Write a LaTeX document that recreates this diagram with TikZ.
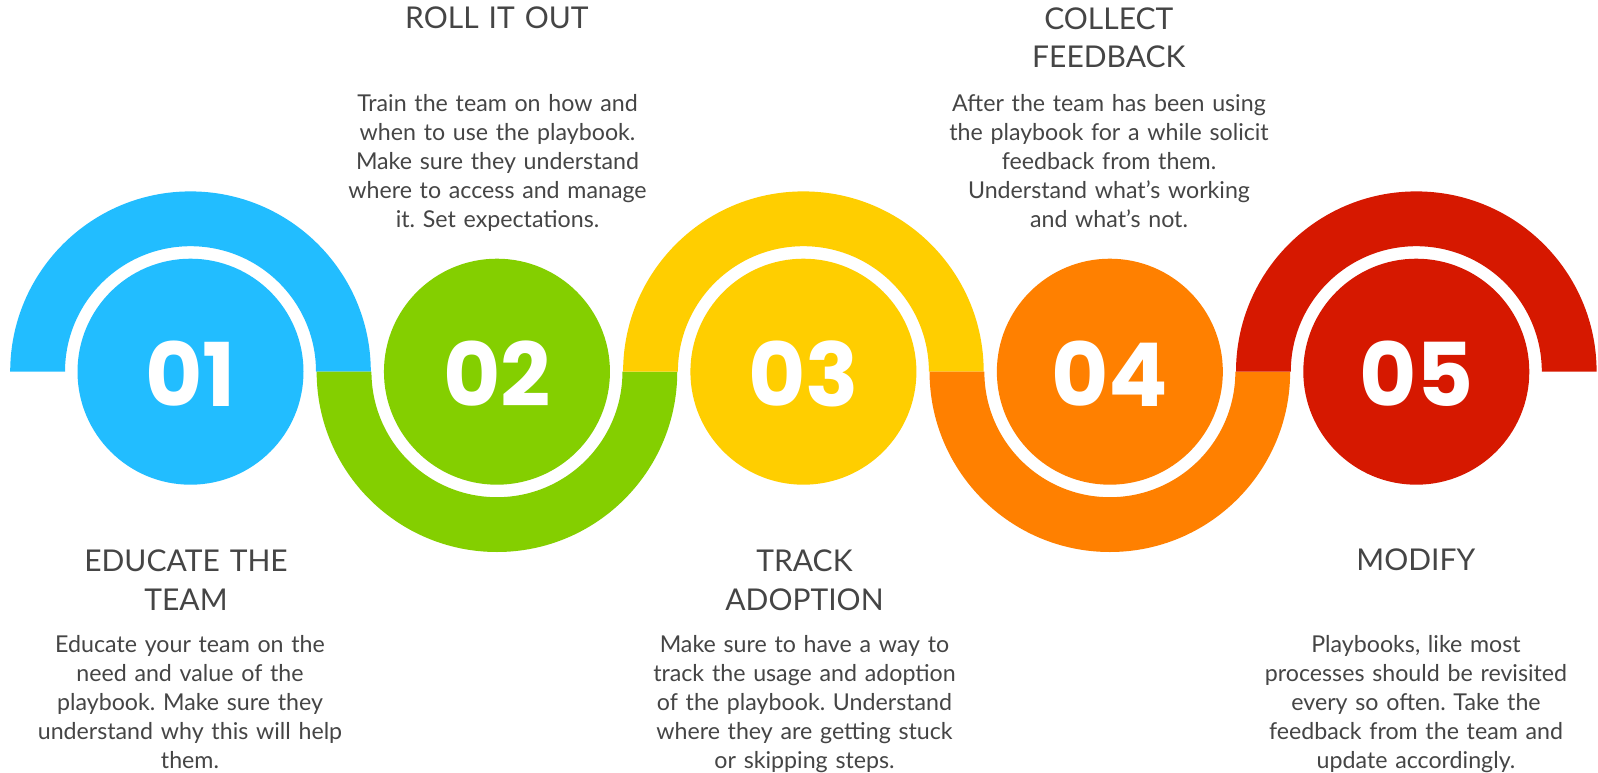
\documentclass[tikz,border=0pt]{standalone}
\usepackage{fontspec}
\setmainfont{Lato}
\newfontfamily\numfont{Poppins}
\frenchspacing

\definecolor{cblue}{HTML}{22BDFF}
\definecolor{cgreen}{HTML}{84CF00}
\definecolor{cyellow}{HTML}{FFCE00}
\definecolor{corange}{HTML}{FF8000}
\definecolor{cred}{HTML}{D61800}
\definecolor{textgray}{HTML}{454545}

\tikzset{
  disc/.style={circle, fill=#1, draw=none, minimum size=226pt, inner sep=0pt},
  num/.style={text=white, anchor=base, inner sep=0pt,
    font=\numfont\bfseries\fontsize{88}{88}\selectfont},
  title/.style={text=textgray, anchor=base, inner sep=0pt, align=center,
    text width=400pt, font=\fontsize{30}{38.5}\selectfont},
  body/.style={text=textgray, anchor=base, inner sep=0pt, align=center,
    text width=420pt, font=\fontsize{23.2}{28.85}\selectfont},
}

\begin{document}
\begin{tikzpicture}[x=1pt, y=1pt]
  \fill[white] (0,0) rectangle (1598,-773);
  \useasboundingbox (0,0) rectangle (1598,-773);

  % half rings, alternately above and below the common baseline
  \def\Ro{180.3}
  \def\Ri{125.5}
  \def\cy{-371.7}
  \foreach \i/\col/\dir in {0/cblue/1, 1/cgreen/-1, 2/cyellow/1, 3/corange/-1, 4/cred/1}{
    \pgfmathsetmacro\cx{190.5+306.45*\i}
    \pgfmathsetmacro\ea{180-180*\dir}
    \fill[\col] (\cx-\Ro,\cy) arc[start angle=180, end angle=\ea, radius=\Ro pt]
      -- (\cx+\Ri,\cy) arc[start angle=\ea, end angle=180, radius=\Ri pt] -- cycle;
  }

  % numbered discs
  \node[disc=cblue]   (s1) at (190.5,-371.7)  {};
  \node[disc=cgreen]  (s2) at (496.95,-371.7) {};
  \node[disc=cyellow] (s3) at (803.4,-371.7)  {};
  \node[disc=corange] (s4) at (1109.85,-371.7) {};
  \node[disc=cred]    (s5) at (1416.3,-371.7) {};

  \node[num] (n1) at ([yshift=-34.5pt]s1.center) {01};
  \node[num] (n2) at ([yshift=-34.5pt]s2.center) {02};
  \node[num] (n3) at ([yshift=-34.5pt]s3.center) {03};
  \node[num] (n4) at ([yshift=-34.5pt]s4.center) {04};
  \node[num] (n5) at ([yshift=-34.5pt]s5.center) {05};

  % step titles
  \node[title] (t1) at (186,-571.7)    {EDUCATE THE\\TEAM};
  \node[title] (t2) at (496.9,-28.5)   {ROLL IT OUT};
  \node[title] (t3) at (804.5,-571.7)  {TRACK\\ADOPTION};
  \node[title] (t4) at (1108.8,-29.3)  {COLLECT\\FEEDBACK};
  \node[title] (t5) at (1415.8,-570.7) {MODIFY};

  % step descriptions
  \node[body] (b1) at (190,-652.7) {Educate your team on the\\need and value of the\\playbook. Make sure they\\understand why this will help\\them.};
  \node[body] (b2) at (497.5,-111.7) {Train the team on how and\\when to use the playbook.\\Make sure they understand\\where to access and manage\\it. Set expectations.};
  \node[body] (b3) at (804.5,-652.7) {Make sure to have a way to\\track the usage and adoption\\of the playbook. Understand\\where they are getting stuck\\or skipping steps.};
  \node[body] (b4) at (1109,-111.7) {After the team has been using\\the playbook for a while solicit\\feedback from them.\\Understand what’s working\\and what’s not.};
  \node[body] (b5) at (1416,-652.7) {Playbooks, like most\\processes should be revisited\\every so often. Take the\\feedback from the team and\\update accordingly.};
\end{tikzpicture}
\end{document}
